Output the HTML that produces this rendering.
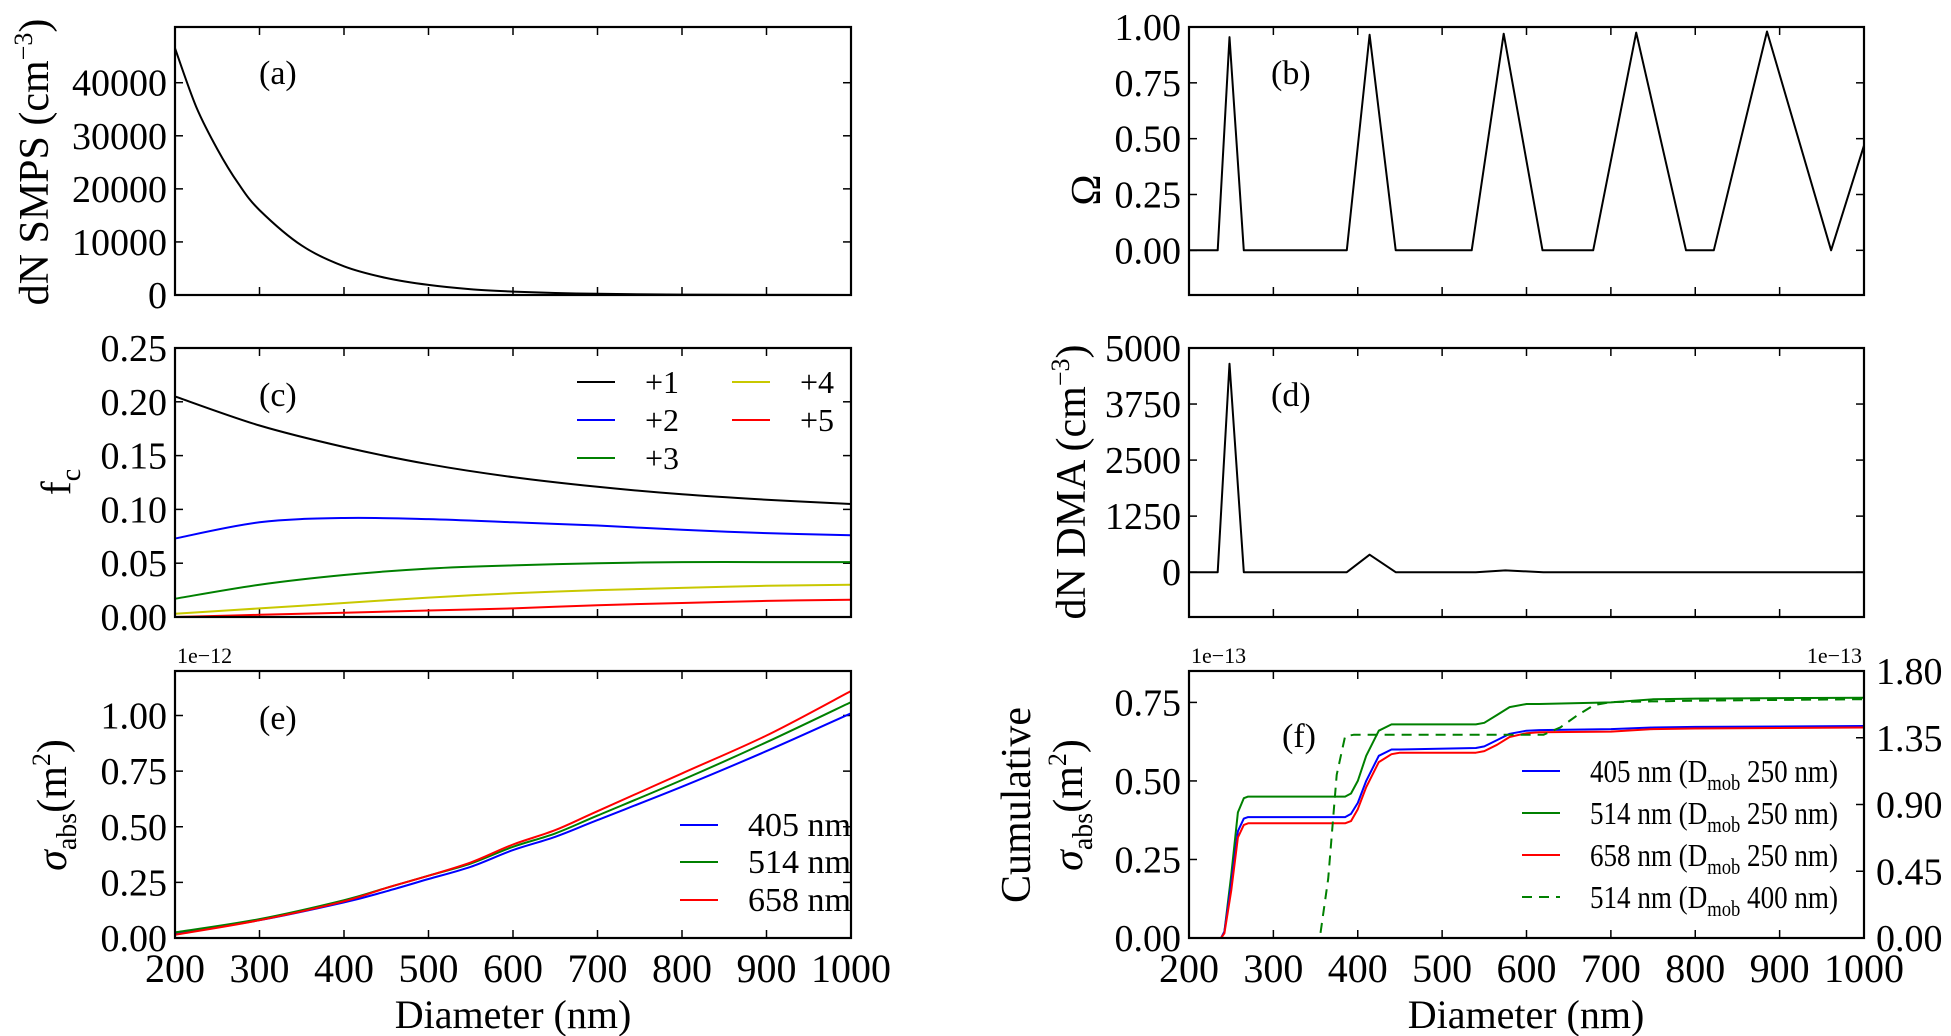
<!DOCTYPE html>
<html><head><meta charset="utf-8"><style>
html,body{margin:0;padding:0;background:#fff;}
svg{display:block;}
svg text{font-family:"Liberation Serif","DejaVu Serif",serif;}
</style></head><body>
<svg id="fig" width="1951" height="1036" viewBox="0 0 1951 1036" xmlns="http://www.w3.org/2000/svg" font-family="Liberation Serif, DejaVu Serif, serif"></svg>
<script>
// ---- data ----
const xTicks = [200,300,400,500,600,700,800,900,1000];
// (a)
const smpsX = [200,225,250,275,300,350,400,450,500,550,600,650,700,800,900,1000];
const smpsY = [46500,35500,27500,21000,16000,9300,5400,3200,1900,1100,650,380,220,75,25,9];
// (c)
const fcX = [200,300,400,500,600,700,800,900,1000];
const fc1 = [0.205,0.178,0.158,0.142,0.130,0.121,0.114,0.109,0.105];
const fc2 = [0.073,0.088,0.092,0.091,0.088,0.085,0.081,0.078,0.076];
const fc3 = [0.017,0.030,0.039,0.045,0.048,0.050,0.051,0.051,0.051];
const fc4 = [0.003,0.008,0.013,0.018,0.022,0.025,0.027,0.029,0.030];
const fc5 = [0.000,0.002,0.004,0.006,0.008,0.011,0.013,0.015,0.016];
// (e)
const sigX = [200,300,400,450,500,550,600,650,700,800,900,1000];
const sig405 = [0.020,0.080,0.160,0.210,0.265,0.320,0.395,0.455,0.530,0.680,0.840,1.010];
const sig514 = [0.025,0.085,0.170,0.225,0.280,0.335,0.410,0.470,0.550,0.710,0.880,1.060];
const sig658 = [0.015,0.080,0.165,0.225,0.280,0.340,0.420,0.485,0.570,0.740,0.910,1.110];
// (b)
const omX = [200,234,248,265,387,414,445,535,573,619,679,730,789,822,885,961,1000];
const omY = [0,0,0.955,0,0,0.965,0,0,0.97,0,0,0.975,0,0,0.98,0,0.47];
// (d)
const dmaX = [200,234,248,265,387,414,445,540,575,620,1000];
const dmaY = [0,0,4650,0,0,390,0,0,40,0,0];
// (f)
const cumX = [200,238,242,250,258,265,270,385,392,400,410,425,440,450,540,550,565,580,600,615,700,750,800,1000];
const cumG = [0,0,0.02,0.2,0.40,0.445,0.45,0.45,0.46,0.5,0.58,0.66,0.68,0.68,0.68,0.685,0.71,0.735,0.745,0.745,0.75,0.76,0.762,0.765];
const cumB = [0,0,0.02,0.17,0.34,0.38,0.385,0.385,0.395,0.43,0.5,0.58,0.6,0.6,0.605,0.61,0.63,0.65,0.66,0.662,0.665,0.67,0.672,0.675];
const cumR = [0,0,0.015,0.15,0.32,0.36,0.365,0.365,0.372,0.41,0.48,0.56,0.585,0.59,0.59,0.595,0.615,0.64,0.652,0.655,0.657,0.665,0.667,0.67];
const cum400X = [200,355,365,375,385,395,620,640,660,680,700,800,1000];
const cum400Y = [0,0,0.4,1.1,1.36,1.37,1.37,1.42,1.5,1.57,1.59,1.6,1.61];

const NS = "http://www.w3.org/2000/svg";
const svg = document.getElementById('fig');
function mk(tag, attrs, parent){ const e=document.createElementNS(NS,tag); for(const k in attrs) e.setAttribute(k,attrs[k]); if(tag==='text') e.setAttribute('font-family','Liberation Serif, DejaVu Serif, serif'); (parent||svg).appendChild(e); return e; }

function panel(name, x0, x1, y0, y1, ymin, ymax, yticks, yfmt){
  const g = mk('g',{});
  
  
  const sx = v => x0 + (v-200)/800*(x1-x0);
  const sy = v => y1 - (v-ymin)/(ymax-ymin)*(y1-y0);
  return {g, sx, sy, x0, x1, y0, y1, yticks, yfmt, ymin, ymax};
}
function frame(p, showX, rightTicks){
  const g = p.g;
  xTicks.forEach(t=>{
    const x=p.sx(t);
    mk('line',{x1:x,x2:x,y1:p.y1,y2:p.y1-8,stroke:'#000','stroke-width':1.5},g);
    mk('line',{x1:x,x2:x,y1:p.y0,y2:p.y0+8,stroke:'#000','stroke-width':1.5},g);
    if(showX){
      const t2=mk('text',{x:x,y:p.y1+44,'font-size':40,'text-anchor':'middle'},g);
      t2.textContent=t;
      
      
    }
  });
  p.yticks.forEach(t=>{
    const y=p.sy(t);
    mk('line',{x1:p.x0,x2:p.x0+8,y1:y,y2:y,stroke:'#000','stroke-width':1.5},g);
    if(!rightTicks) mk('line',{x1:p.x1,x2:p.x1-8,y1:y,y2:y,stroke:'#000','stroke-width':1.5},g);
    const tx=mk('text',{x:p.x0-8,y:y+13,'font-size':38,'text-anchor':'end'},g);
    tx.textContent=p.yfmt(t);
    
    
  });
}
function box(p){
  const r=mk('rect',{x:p.x0,y:p.y0,width:p.x1-p.x0,height:p.y1-p.y0,fill:'none',stroke:'#000','stroke-width':2.2},p.g);
  
  
}
function series(p, xs, ys, color, name, opts){
  opts=opts||{};
  const sy = opts.sy || p.sy;
  const P = xs.map((x,i)=>[p.sx(x), sy(ys[i])]);
  let d='M'+P[0][0].toFixed(1)+','+P[0][1].toFixed(1);
  if(opts.smooth){
    for(let i=0;i<P.length-1;i++){
      const p0=P[Math.max(i-1,0)], p1=P[i], p2=P[i+1], p3=P[Math.min(i+2,P.length-1)];
      const c1=[p1[0]+(p2[0]-p0[0])/6, p1[1]+(p2[1]-p0[1])/6];
      const c2=[p2[0]-(p3[0]-p1[0])/6, p2[1]-(p3[1]-p1[1])/6];
      d+=`C${c1[0].toFixed(1)},${c1[1].toFixed(1)} ${c2[0].toFixed(1)},${c2[1].toFixed(1)} ${p2[0].toFixed(1)},${p2[1].toFixed(1)}`;
    }
  } else {
    for(let i=1;i<P.length;i++) d+='L'+P[i][0].toFixed(1)+','+P[i][1].toFixed(1);
  }
  const path=mk('path',{d:d,fill:'none',stroke:color,'stroke-width':2,'stroke-linejoin':'round'},p.g);
  if(opts.dash) path.setAttribute('stroke-dasharray',opts.dash);
  
  
  return path;
}
function label(p, txt, x, y){
  const t=mk('text',{x:x,y:y,'font-size':34},p.g);
  t.textContent=txt;
  
  
}
function legendEntry(g, x, y, color, html, dash, size, len){
  const l=mk('line',{x1:x,x2:x+38,y1:y,y2:y,stroke:color,'stroke-width':2},g);
  if(dash) l.setAttribute('stroke-dasharray',dash);
  
  
  const t=mk('text',{x:x+68,y:y+11,'font-size':size||32},g);
  t.innerHTML=html;
  if(len){ t.setAttribute('textLength',len); t.setAttribute('lengthAdjust','spacingAndGlyphs'); }
  
  
}
function ylabel(html, x, y, size, name){
  const t=mk('text',{x:0,y:0,'font-size':size,'text-anchor':'middle',transform:`translate(${x},${y}) rotate(-90)`});
  t.innerHTML=html;
  
  
}
const f2 = v=>v.toFixed(2);
const LX0=175, LX1=851, RX0=1189, RX1=1864;
const R1=[27,295], R2=[348,617], R3=[671,938];

// (a)
const pa=panel('panel-a-smps',LX0,LX1,R1[0],R1[1],0,50500,[0,10000,20000,30000,40000],v=>String(v));
frame(pa,false);
series(pa,smpsX,smpsY,'#000','smps-curve',{smooth:true});
label(pa,'(a)',259,84);
box(pa);
ylabel('dN SMPS (cm<tspan dy="-16" font-size="26">−3</tspan><tspan dy="16">)</tspan>',48,162,42,'y-axis-title-a');

// (b)
const pb=panel('panel-b-omega',RX0,RX1,R1[0],R1[1],-0.2,1.0,[0,0.25,0.5,0.75,1.0],f2);
frame(pb,false);
series(pb,omX,omY,'#000','omega-curve');
label(pb,'(b)',1271,84);
box(pb);
ylabel('Ω',1100,190,42,'y-axis-title-b');

// (c)
const pc=panel('panel-c-charge-fraction',LX0,LX1,R2[0],R2[1],0,0.25,[0,0.05,0.10,0.15,0.20,0.25],f2);
frame(pc,false);
series(pc,fcX,fc1,'#000','line-plus1',{smooth:true});
series(pc,fcX,fc2,'#0000ff','line-plus2',{smooth:true});
series(pc,fcX,fc3,'#008000','line-plus3',{smooth:true});
series(pc,fcX,fc4,'#c8c800','line-plus4',{smooth:true});
series(pc,fcX,fc5,'#ff0000','line-plus5',{smooth:true});
label(pc,'(c)',259,406);
const lgc=mk('g',{},pc.g);


legendEntry(lgc,577,382,'#000','+1');
legendEntry(lgc,577,420,'#0000ff','+2');
legendEntry(lgc,577,458,'#008000','+3');
legendEntry(lgc,732,382,'#c8c800','+4');
legendEntry(lgc,732,420,'#ff0000','+5');
box(pc);
ylabel('f<tspan dy="10" font-size="28">c</tspan>',70,482,42,'y-axis-title-c');

// (d)
const pd=panel('panel-d-dma',RX0,RX1,R2[0],R2[1],-1000,5000,[0,1250,2500,3750,5000],v=>String(v));
frame(pd,false);
series(pd,dmaX,dmaY,'#000','dma-curve');
label(pd,'(d)',1271,406);
box(pd);
ylabel('dN DMA (cm<tspan dy="-16" font-size="26">−3</tspan><tspan dy="16">)</tspan>',1085,482,42,'y-axis-title-d');

// (e)
const pe=panel('panel-e-sigma-abs',LX0,LX1,R3[0],R3[1],0,1.2,[0,0.25,0.5,0.75,1.0],f2);
frame(pe,true);
series(pe,sigX,sig405,'#0000ff','line-405nm',{smooth:true});
series(pe,sigX,sig514,'#008000','line-514nm',{smooth:true});
series(pe,sigX,sig658,'#ff0000','line-658nm',{smooth:true});
label(pe,'(e)',259,729);
const lge=mk('g',{},pe.g);


legendEntry(lge,680,825,'#0000ff','405 nm',null,34);
legendEntry(lge,680,862,'#008000','514 nm',null,34);
legendEntry(lge,680,900,'#ff0000','658 nm',null,34);
const oe=mk('text',{x:177,y:663,'font-size':22},pe.g); oe.textContent='1e−12';
 
box(pe);
ylabel('<tspan font-style="italic">σ</tspan><tspan dy="10" font-size="28">abs</tspan><tspan dy="-10">(m</tspan><tspan dy="-16" font-size="26">2</tspan><tspan dy="16">)</tspan>',66,805,42,'y-axis-title-e');

// (f)
const pf=panel('panel-f-cumulative',RX0,RX1,R3[0],R3[1],0,0.85,[0,0.25,0.5,0.75],f2);
frame(pf,true,true);
const syR = v => pf.y1 - v/1.8*(pf.y1-pf.y0);
[0,0.45,0.9,1.35,1.8].forEach(t=>{
  const y=syR(t);
  mk('line',{x1:RX1,x2:RX1-8,y1:y,y2:y,stroke:'#000','stroke-width':1.5},pf.g);
  const tx=mk('text',{x:RX1+12,y:y+13,'font-size':38},pf.g);
  tx.textContent=t.toFixed(2);
  
  
});
series(pf,cumX,cumG,'#008000','line-514nm-250');
series(pf,cumX,cumB,'#0000ff','line-405nm-250');
series(pf,cumX,cumR,'#ff0000','line-658nm-250');
series(pf,cum400X,cum400Y,'#008000','line-514nm-400',{sy:syR,dash:'10,7'});
label(pf,'(f)',1282,747);
const lgf=mk('g',{},pf.g);


const sub=(a,b)=>`${a} nm (D<tspan dy="8" font-size="22">mob</tspan><tspan dy="-8"> ${b} nm)</tspan>`;
legendEntry(lgf,1522,771,'#0000ff',sub(405,250),null,32,248);
legendEntry(lgf,1522,813,'#008000',sub(514,250),null,32,248);
legendEntry(lgf,1522,855,'#ff0000',sub(658,250),null,32,248);
legendEntry(lgf,1522,897,'#008000',sub(514,400),'10,7',32,248);
const of1=mk('text',{x:1191,y:663,'font-size':22},pf.g); of1.textContent='1e−13';
 
const of2=mk('text',{x:1862,y:663,'font-size':22,'text-anchor':'end'},pf.g); of2.textContent='1e−13';
 
box(pf);
ylabel('Cumulative',1030,805,42,'y-axis-title-f-line1');
ylabel('<tspan font-style="italic">σ</tspan><tspan dy="10" font-size="28">abs</tspan><tspan dy="-10">(m</tspan><tspan dy="-16" font-size="26">2</tspan><tspan dy="16">)</tspan>',1082,805,42,'y-axis-title-f-line2');

// x titles
[[513,'x-axis-title-e'],[1526,'x-axis-title-f']].forEach(([x,n])=>{
  const t=mk('text',{x:x,y:1028,'font-size':40,'text-anchor':'middle'});
  t.textContent='Diameter (nm)';
  
  
});
</script>
</body></html>
